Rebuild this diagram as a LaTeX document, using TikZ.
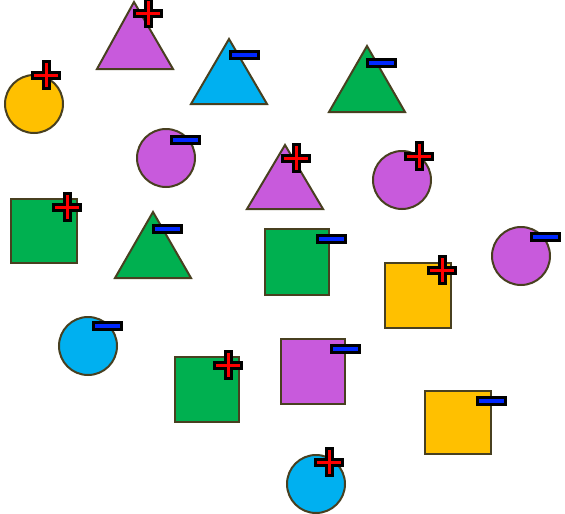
\documentclass[tikz,border=0pt]{standalone}
\definecolor{cpurple}{RGB}{200,90,220}
\definecolor{cblue}{RGB}{0,176,240}
\definecolor{cgreen}{RGB}{0,176,80}
\definecolor{cyellow}{RGB}{255,192,0}
\definecolor{edgecol}{RGB}{72,64,32}
\definecolor{mblue}{RGB}{0,40,255}
\begin{document}
\begin{tikzpicture}[x=1pt,y=-1pt,
  shp/.style={draw=edgecol,line width=2pt,line join=miter},
  plussign/.pic={\filldraw[fill=red,draw=black,line width=3pt,line join=miter]
     (-3,-13.5)--(3,-13.5)--(3,-3)--(13.5,-3)--(13.5,3)--(3,3)--(3,13.5)--(-3,13.5)--(-3,3)--(-13.5,3)--(-13.5,-3)--(-3,-3)--cycle;},
  minussign/.pic={\filldraw[fill=mblue,draw=black,line width=3pt] (-14,-3.6)rectangle(14,3.6);}
]
\useasboundingbox (0,0) rectangle (565,514);
% triangles
\filldraw[shp,fill=cpurple] (134,2)--(173,69)--(97,69)--cycle;
\filldraw[shp,fill=cblue] (229,39)--(267,104)--(191,104)--cycle;
\filldraw[shp,fill=cgreen] (367,46)--(405,112)--(329,112)--cycle;
\filldraw[shp,fill=cpurple] (285,145)--(323,209)--(247,209)--cycle;
\filldraw[shp,fill=cgreen] (153,212)--(191,278)--(115,278)--cycle;
% circles
\filldraw[shp,fill=cyellow] (34,104) circle (29);
\filldraw[shp,fill=cpurple] (166,158) circle (29);
\filldraw[shp,fill=cpurple] (402,180) circle (29);
\filldraw[shp,fill=cpurple] (521,256) circle (29);
\filldraw[shp,fill=cblue] (88,346) circle (29);
\filldraw[shp,fill=cblue] (316,484) circle (29);
% squares
\filldraw[shp,fill=cgreen] (11,199) rectangle (77,263);
\filldraw[shp,fill=cgreen] (265,229) rectangle (329,295);
\filldraw[shp,fill=cyellow] (385,263) rectangle (451,328);
\filldraw[shp,fill=cgreen] (175,357) rectangle (239,422);
\filldraw[shp,fill=cpurple] (281,339) rectangle (345,404);
\filldraw[shp,fill=cyellow] (425,391) rectangle (491,454);
% signs
\pic at (148,13) {plussign};
\pic at (244,55) {minussign};
\pic at (381,63) {minussign};
\pic at (46,75) {plussign};
\pic at (185,140) {minussign};
\pic at (296,158) {plussign};
\pic at (419,156) {plussign};
\pic at (67,207) {plussign};
\pic at (167,229) {minussign};
\pic at (331,239) {minussign};
\pic at (545,237) {minussign};
\pic at (442,270) {plussign};
\pic at (107,326) {minussign};
\pic at (228,365) {plussign};
\pic at (345,349) {minussign};
\pic at (491,401) {minussign};
\pic at (329,462) {plussign};
\end{tikzpicture}
\end{document}
